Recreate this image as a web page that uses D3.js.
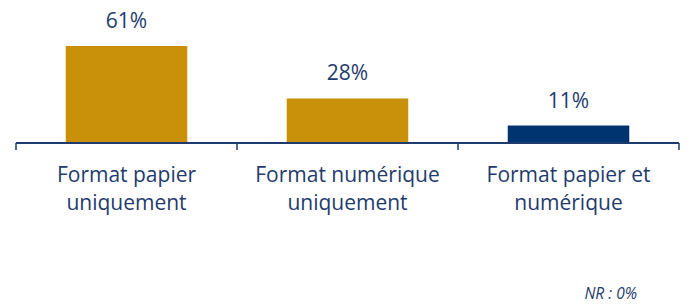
<!DOCTYPE html>
<html>
<head>
<meta charset="utf-8">
<script src="https://cdn.jsdelivr.net/npm/d3@7"></script>
<style>
  body { margin: 0; background: #fff; }
  text { font-family: "Open Sans", sans-serif; }
</style>
</head>
<body>
<div id="chart-area"></div>
<script>
// chart data
const categories = ["Format papier uniquement", "Format numérique uniquement", "Format papier et numérique"];
const labelLines = [["Format papier", "uniquement"], ["Format numérique", "uniquement"], ["Format papier et", "numérique"]];
const values = [61, 28, 11];
const barColors = ["#C9910A", "#C9910A", "#003470"];
const noteText = "NR : 0%";

const width = 688, height = 304;
const axisY = 143;
const textColor = "#1F3B6E";

const svg = d3.select("#chart-area")
  .append("svg")
    .attr("width", width)
    .attr("height", height);

// x scale: one band per category
const x = d3.scaleBand()
  .domain(categories)
  .range([16, 679])
  .paddingInner(0.45)
  .paddingOuter(0.225);

// y scale
const y = d3.scaleLinear()
  .domain([0, 100])
  .range([axisY, axisY - 159]);

// bars
svg.selectAll("rect.bar")
  .data(values)
  .enter()
  .append("rect")
    .attr("class", "bar")
    .attr("x", (d, i) => x(categories[i]))
    .attr("y", d => y(d))
    .attr("width", x.bandwidth())
    .attr("height", d => y(0) - y(d))
    .attr("fill", (d, i) => barColors[i]);

// axis line with ticks at band boundaries
const bounds = categories.map(c => x(c) - x.step() * x.paddingInner() / 2)
  .map((v, i) => i === 0 ? 16 : v);
bounds.push(679);
svg.append("line")
  .attr("x1", 16).attr("x2", 679)
  .attr("y1", axisY).attr("y2", axisY)
  .attr("stroke", textColor)
  .attr("stroke-width", 2);
svg.selectAll("line.tick")
  .data(bounds)
  .enter()
  .append("line")
    .attr("class", "tick")
    .attr("x1", d => d).attr("x2", d => d)
    .attr("y1", axisY).attr("y2", axisY + 7)
    .attr("stroke", textColor)
    .attr("stroke-width", 1.5);

// value labels
svg.selectAll("text.value")
  .data(values)
  .enter()
  .append("text")
    .attr("class", "value")
    .attr("x", (d, i) => x(categories[i]) + x.bandwidth() / 2)
    .attr("y", d => y(d) - 18)
    .attr("text-anchor", "middle")
    .attr("font-size", 21)
    .attr("fill", textColor)
    .text(d => d + "%");

// category labels
const cat = svg.selectAll("text.cat")
  .data(labelLines)
  .enter()
  .append("text")
    .attr("class", "cat")
    .attr("text-anchor", "middle")
    .attr("font-size", 21)
    .attr("fill", textColor);
cat.selectAll("tspan")
  .data((d, i) => d.map(line => ({line, i})))
  .enter()
  .append("tspan")
    .attr("x", d => x(categories[d.i]) + x.bandwidth() / 2)
    .attr("y", (d, j) => 182 + j * 28)
    .text(d => d.line);

// note
svg.append("text")
  .attr("x", 637)
  .attr("y", 299)
  .attr("text-anchor", "end")
  .attr("font-size", 15.5)
  .attr("font-style", "italic")
  .attr("fill", textColor)
  .text(noteText);
</script>
</body>
</html>
